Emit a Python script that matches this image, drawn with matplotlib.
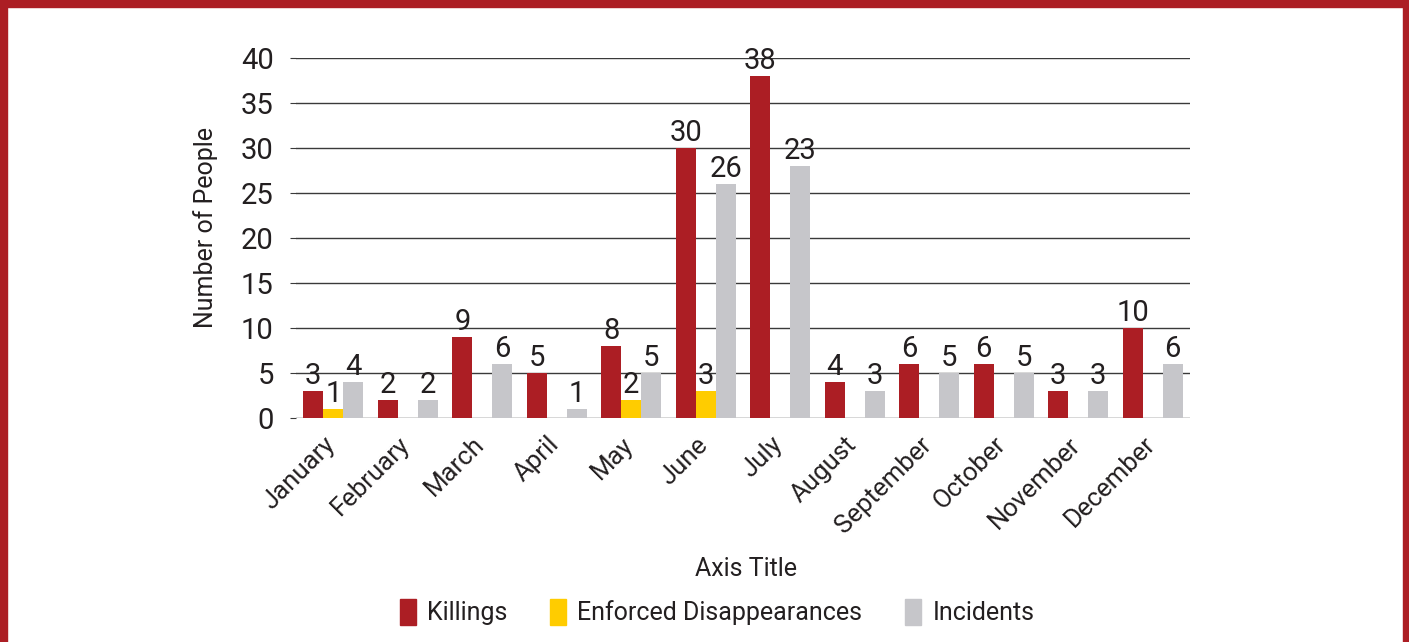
import numpy as np
import matplotlib
matplotlib.use("Agg")
import matplotlib.pyplot as plt
import matplotlib.transforms as mtransforms
from matplotlib.patches import Rectangle, Patch

# donnees
months = ["January", "February", "March", "April", "May", "June",
          "July", "August", "September", "October", "November", "December"]
killings = [3, 2, 9, 5, 8, 30, 38, 4, 6, 6, 3, 10]
disappearances = [1, 0, 0, 0, 2, 3, 0, 0, 0, 0, 0, 0]
incidents = [4, 2, 6, 1, 5, 26, 28, 3, 5, 5, 3, 6]
# etiquettes affichees (juillet : barre a 28 mais etiquette 23)
killings_lbl = ["3", "2", "9", "5", "8", "30", "38", "4", "6", "6", "3", "10"]
disappearances_lbl = ["1", "", "", "", "2", "3", "", "", "", "", "", ""]
incidents_lbl = ["4", "2", "6", "1", "5", "26", "23", "3", "5", "5", "3", "6"]
yticks = [0, 5, 10, 15, 20, 25, 30, 35, 40]

red = "#AC1E24"
yellow = "#FFCC00"
grey = "#C6C6CA"
txt = "#231F20"

plt.rcParams["font.family"] = ["Roboto", "DejaVu Sans"]

fig = plt.figure(figsize=(14.09, 6.42), dpi=100)
W, H = 1409, 642
ax = fig.add_axes([296 / W, 1 - 418 / H, (1190 - 296) / W, (418 - 58) / H])

x = np.arange(len(months))
w = 0.268
series = [(killings, killings_lbl, red, "Killings"),
          (disappearances, disappearances_lbl, yellow, "Enforced Disappearances"),
          (incidents, incidents_lbl, grey, "Incidents")]

for k, (vals, lbls, col, name) in enumerate(series):
    bars = ax.bar(x + (k - 1) * w, vals, w, color=col, zorder=3)
    ax.bar_label(bars, labels=lbls, padding=1, fontsize=21, color=txt)

ax.set_xlim(-0.5, len(months) - 0.5)
ax.set_ylim(0, 40)
ax.set_yticks(yticks)
ax.yaxis.grid(True, color="#3a3a3a", linewidth=1, zorder=0)
ax.set_axisbelow(True)
for s in ["top", "right", "left", "bottom"]:
    ax.spines[s].set_visible(False)
ax.tick_params(axis="y", length=4, color="#3a3a3a", labelsize=21, labelcolor=txt, pad=12)
ax.tick_params(axis="x", length=0, labelsize=18.5, labelcolor=txt, pad=6)
ax.set_xticks(x)
ax.set_xticklabels(months, rotation=45, ha="right", rotation_mode="anchor")
# petit decalage des mois vers la gauche / le bas
shift = mtransforms.ScaledTranslation(-10 / 100, -6 / 100, fig.dpi_scale_trans)
for lab in ax.get_xticklabels():
    lab.set_transform(lab.get_transform() + shift)

ax.set_ylabel("Number of People", fontsize=18, color=txt)
ax.yaxis.set_label_coords(-0.087, 0.528)
ax.set_xlabel("Axis Title", fontsize=18, color=txt)
ax.xaxis.set_label_coords(0.503, -0.386)

handles = [Patch(color=c, label=n) for _, _, c, n in series]
fig.legend(handles=handles, loc="center", bbox_to_anchor=(717 / W, 1 - 612 / H),
           ncol=3, frameon=False, fontsize=18, handlelength=0.65, handleheight=1.2,
           handletextpad=0.45, columnspacing=1.7, labelcolor=txt)

# cadre rouge
fig.patches.append(Rectangle((0, 1 - 7 / H), 1, 7 / H, transform=fig.transFigure, color=red, zorder=10))
fig.patches.append(Rectangle((0, 0), 7 / W, 1, transform=fig.transFigure, color=red, zorder=10))
fig.patches.append(Rectangle((1 - 6 / W, 0), 6 / W, 1, transform=fig.transFigure, color=red, zorder=10))

fig.savefig("out.png", dpi=100)
